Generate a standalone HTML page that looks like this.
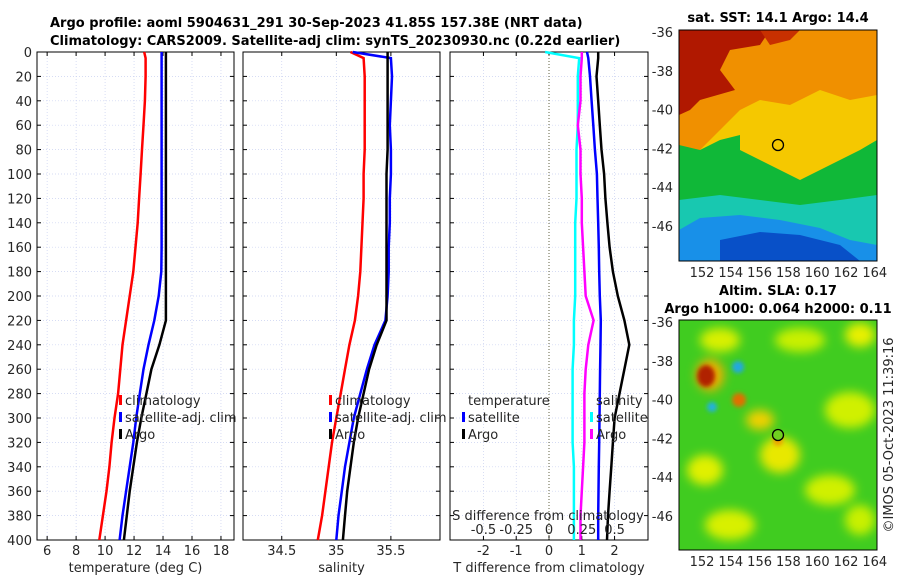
<!DOCTYPE html>
<html><head><meta charset="utf-8"><style>
body{margin:0;background:#fff}
svg{display:block;font-family:"DejaVu Sans","Liberation Sans",sans-serif}
.t{font-size:13px;fill:#262626}
.b{font-weight:bold;font-size:13px;fill:#000}
</style></head><body>
<svg id="c" width="900" height="580" viewBox="0 0 900 580">
<defs>
<filter id="bl" x="-20%" y="-20%" width="140%" height="140%"><feGaussianBlur stdDeviation="5"/></filter>
<filter id="bl2" x="-20%" y="-20%" width="140%" height="140%"><feGaussianBlur stdDeviation="2"/></filter>
<clipPath id="m1"><rect x="679" y="30" width="198" height="231"/></clipPath>
<clipPath id="m2"><rect x="679" y="320" width="198" height="230"/></clipPath>
</defs>
<text class="b" x="50" y="27">Argo profile: aoml 5904631_291 30-Sep-2023 41.85S 157.38E (NRT data)</text>
<text class="b" x="50" y="45">Climatology: CARS2009. Satellite-adj clim: synTS_20230930.nc (0.22d earlier)</text>
<g id="panels"></g>

<g>
<g clip-path="url(#m1)">
<rect x="679" y="30" width="198" height="231" fill="#f5c800"/>
<polygon points="679,30 877,30 877,95 850,100 820,90 790,105 760,100 740,110 720,130 700,150 679,160" fill="#f09000"/>
<polygon points="679,30 770,30 760,45 730,50 720,70 735,90 700,100 690,110 679,115" fill="#b01800"/>
<polygon points="760,30 800,30 790,40 770,45" fill="#c83000"/>
<polygon points="679,145 700,150 720,140 740,135 740,150 760,160 780,170 800,180 820,170 840,160 860,150 877,140 877,261 679,261" fill="#10b838"/>
<polygon points="679,200 720,195 760,200 800,205 840,200 877,195 877,261 679,261" fill="#18c8b0"/>
<polygon points="679,230 700,218 740,215 780,220 820,228 850,240 877,245 877,261 679,261" fill="#1890e8"/>
<polygon points="720,240 760,232 800,235 840,245 860,261 720,261" fill="#0850c8"/>
</g>
<rect x="679" y="30" width="198" height="231" fill="none" stroke="#000"/>
<circle cx="778" cy="145" r="5.5" fill="none" stroke="#000" stroke-width="1.3"/>
<text class="b" x="778" y="22" text-anchor="middle">sat. SST: 14.1 Argo: 14.4</text>
</g>

<g>
<g clip-path="url(#m2)">
<rect x="679" y="320" width="198" height="230" fill="#40cc20"/>
<g filter="url(#bl)">
<ellipse cx="720" cy="340" rx="20" ry="12" fill="#d8f000"/>
<ellipse cx="800" cy="340" rx="25" ry="12" fill="#c8f000"/>
<ellipse cx="860" cy="335" rx="15" ry="12" fill="#e8f000"/>
<ellipse cx="850" cy="410" rx="25" ry="18" fill="#d0f000"/>
<ellipse cx="780" cy="455" rx="20" ry="18" fill="#e8e800"/>
<ellipse cx="705" cy="470" rx="18" ry="15" fill="#e0f000"/>
<ellipse cx="830" cy="490" rx="25" ry="15" fill="#d0f000"/>
<ellipse cx="730" cy="525" rx="25" ry="15" fill="#d8f000"/>
<ellipse cx="860" cy="520" rx="15" ry="15" fill="#c8f000"/>
<ellipse cx="760" cy="420" rx="14" ry="10" fill="#f0d000"/>
<ellipse cx="710" cy="375" rx="14" ry="16" fill="#f0b000"/>
</g>
<g filter="url(#bl2)">
<ellipse cx="706" cy="376" rx="9" ry="11" fill="#b02000"/>
<ellipse cx="739" cy="400" rx="7" ry="7" fill="#e07000"/>
<circle cx="738" cy="367" r="6" fill="#20a8e0"/>
<circle cx="712" cy="407" r="5" fill="#20b0e0"/>
<ellipse cx="778" cy="440" rx="5" ry="6" fill="#f0a000"/>
</g>
</g>
<rect x="679" y="320" width="198" height="230" fill="none" stroke="#000"/>
<circle cx="778" cy="435" r="5.5" fill="#70d020" stroke="#000" stroke-width="1.3"/>
<text class="b" x="778" y="295" text-anchor="middle">Altim. SLA: 0.17</text>
<text class="b" x="778" y="313" text-anchor="middle">Argo h1000: 0.064 h2000: 0.11</text>
</g>
<text class="t" transform="translate(893,435) rotate(-90)" text-anchor="middle">©IMOS 05-Oct-2023 11:39:16</text>
</svg>
<script>
const depths=[0,5,20,40,60,80,100,120,140,160,180,200,220,240,260,280,300,320,340,360,380,400];
const tClim=[12.7,12.8,12.8,12.75,12.65,12.55,12.45,12.35,12.25,12.1,11.95,11.7,11.45,11.2,11.05,10.9,10.65,10.45,10.3,10.1,9.85,9.6];
const tSat=[13.9,13.9,13.9,13.9,13.9,13.9,13.9,13.9,13.9,13.9,13.88,13.7,13.4,13.0,12.65,12.4,12.15,11.95,11.7,11.45,11.2,11.0];
const tArgo=[14.2,14.2,14.2,14.2,14.2,14.2,14.2,14.2,14.2,14.2,14.2,14.2,14.2,13.75,13.2,12.85,12.5,12.2,11.95,11.7,11.5,11.3];
const sClim=[35.13,35.25,35.26,35.26,35.26,35.26,35.25,35.25,35.24,35.23,35.22,35.2,35.17,35.12,35.08,35.04,35.0,34.96,34.93,34.9,34.87,34.83];
const sSat=[35.15,35.5,35.51,35.5,35.49,35.5,35.5,35.49,35.49,35.48,35.48,35.47,35.45,35.35,35.28,35.22,35.16,35.12,35.08,35.05,35.02,35.0];
const sArgo=[35.47,35.47,35.47,35.47,35.47,35.47,35.46,35.46,35.46,35.46,35.46,35.46,35.46,35.37,35.3,35.25,35.2,35.16,35.13,35.1,35.08,35.06];
const dTSat=[1.16,1.2,1.25,1.3,1.35,1.4,1.46,1.48,1.5,1.52,1.53,1.55,1.58,1.57,1.56,1.55,1.54,1.53,1.52,1.51,1.5,1.5];
const dTArgo=[1.5,1.5,1.45,1.5,1.55,1.6,1.68,1.72,1.78,1.85,1.95,2.1,2.3,2.45,2.3,2.15,2.0,1.95,1.9,1.85,1.8,1.77];
const dSSat=[-0.03,0.23,0.22,0.22,0.22,0.21,0.21,0.21,0.2,0.2,0.2,0.2,0.19,0.19,0.18,0.18,0.18,0.18,0.19,0.19,0.19,0.19];
const dSArgo=[0.25,0.25,0.24,0.24,0.22,0.24,0.24,0.25,0.25,0.26,0.27,0.28,0.34,0.3,0.28,0.27,0.27,0.27,0.26,0.25,0.24,0.24];
const yTicks=[0,20,40,60,80,100,120,140,160,180,200,220,240,260,280,300,320,340,360,380,400];
const tTicks=[6,8,10,12,14,16,18];
const sTicks=[34.5,35,35.5];
const dTTicks=[-2,-1,0,1,2];
const dSTicks=[-0.5,-0.25,0,0.25,0.5];
const dSLabels=['-0.5','-0.25','0','0.25','0.5'];

const NS='http://www.w3.org/2000/svg';
const g=document.getElementById('panels');
const Y0=52,Y1=540;
const yS=d=>Y0+(d/400)*(Y1-Y0);
function el(tag,attrs,parent){const e=document.createElementNS(NS,tag);for(const k in attrs)e.setAttribute(k,attrs[k]);(parent||g).appendChild(e);return e;}
function txt(x,y,s,anchor,parent){const e=el('text',{x:x,y:y,'class':'t','text-anchor':anchor||'middle'},parent);e.textContent=s;return e;}
function panel(name,x0,x1,xmin,xmax,ticks,labels,xlabel){
  const p=el('g',{});
  
  
  const xs=v=>x0+(v-xmin)/(xmax-xmin)*(x1-x0);
  el('rect',{x:x0,y:Y0,width:x1-x0,height:Y1-Y0,fill:'#fff'},p);
  yTicks.forEach(d=>{el('line',{x1:x0,x2:x1,y1:yS(d),y2:yS(d),stroke:'#c8d0f0','stroke-width':0.7,'stroke-dasharray':'1,2'},p);
    el('line',{x1:x0,x2:x0+4,y1:yS(d),y2:yS(d),stroke:'#000'},p);el('line',{x1:x1,x2:x1-4,y1:yS(d),y2:yS(d),stroke:'#000'},p);});
  ticks.forEach((v,i)=>{el('line',{x1:xs(v),x2:xs(v),y1:Y0,y2:Y1,stroke:'#c8d0f0','stroke-width':0.7,'stroke-dasharray':'1,2'},p);
    el('line',{x1:xs(v),x2:xs(v),y1:Y1,y2:Y1-4,stroke:'#000'},p);el('line',{x1:xs(v),x2:xs(v),y1:Y0,y2:Y0+4,stroke:'#000'},p);
    if(labels)txt(xs(v),555,labels[i],'middle',p);});
  el('rect',{x:x0,y:Y0,width:x1-x0,height:Y1-Y0,fill:'none',stroke:'#000'},p);
  if(xlabel){const t=txt((x0+x1)/2,572,xlabel,'middle',p);}
  return {p,xs};
}
function line(p,xs,vals,color,name){
  const pts=vals.map((v,i)=>xs(v).toFixed(1)+','+yS(depths[i]).toFixed(1)).join(' ');
  const l=el('polyline',{points:pts,fill:'none',stroke:color,'stroke-width':2.5},p);
  
  
}
const yl=el('g',{});


yTicks.forEach(d=>txt(32,yS(d)+5,String(d),'end',yl));

const P1=panel('temperature-panel',37,234,5.3,18.9,tTicks,tTicks.map(String),'temperature (deg C)');
line(P1.p,P1.xs,tClim,'#f00','temp-climatology-line');
line(P1.p,P1.xs,tSat,'#00f','temp-satellite-line');
line(P1.p,P1.xs,tArgo,'#000','temp-argo-line');
const P2=panel('salinity-panel',243,440,34.145,35.95,sTicks,sTicks.map(String),'salinity');
line(P2.p,P2.xs,sClim,'#f00','sal-climatology-line');
line(P2.p,P2.xs,sSat,'#00f','sal-satellite-line');
line(P2.p,P2.xs,sArgo,'#000','sal-argo-line');
const P3=panel('difference-panel',450,648,-3.02,3.02,dTTicks,dTTicks.map(String),'T difference from climatology');
const dsx=v=>P3.xs(v*4);
el('line',{x1:P3.xs(0),x2:P3.xs(0),y1:Y0,y2:Y1,stroke:'#606040','stroke-dasharray':'1,2'},P3.p);
line(P3.p,dsx,dSSat,'#0ff','sdiff-satellite-line');
line(P3.p,dsx,dSArgo,'#f0f','sdiff-argo-line');
line(P3.p,P3.xs,dTSat,'#00f','tdiff-satellite-line');
line(P3.p,P3.xs,dTArgo,'#000','tdiff-argo-line');
txt(548,520,'S difference from climatology','middle',P3.p);
dSTicks.forEach((v,i)=>txt(dsx(v),534,dSLabels[i],'middle',P3.p));

function legend(x,y,items){
  const lg=el('g',{});
  
  
  items.forEach((it,i)=>{
    if(it[1]) el('rect',{x:x-4,y:y+i*17-10,width:3,height:10,fill:it[1]},lg);
    txt(x+2,y+i*17,it[0],'start',lg);
  });
}
legend(123,405,[['climatology','#f00'],['satellite-adj. clim','#00f'],['Argo','#000']]);
legend(333,405,[['climatology','#f00'],['satellite-adj. clim','#00f'],['Argo','#000']]);
legend(466,405,[['temperature',null],['satellite','#00f'],['Argo','#000']]);
legend(594,405,[['salinity',null],['satellite','#0ff'],['Argo','#f0f']]);

function mapAxes(yTop,yBot,lats){
  const a=el('g',{});
  
  
  const lons=[152,154,156,158,160,162,164];
  lons.forEach(v=>{const x=702+(v-152)*14.4;el('line',{x1:x,x2:x,y1:yBot,y2:yBot-4,stroke:'#000'},a);txt(x,yBot+16,String(v),'middle',a);});
  lats.forEach(v=>{const y=yTop+(-36-v)*19.4;el('line',{x1:679,x2:683,y1:y,y2:y,stroke:'#000'},a);txt(673,y+5,String(v),'end',a);});
}
mapAxes(32,261,[-36,-38,-40,-42,-44,-46]);
mapAxes(322,550,[-36,-38,-40,-42,-44,-46]);
</script>
</body></html>
